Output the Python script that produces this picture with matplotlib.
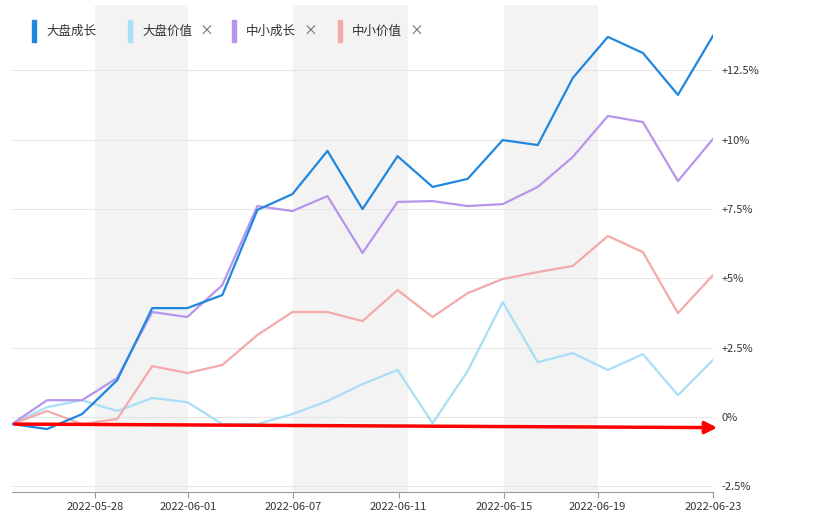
import matplotlib.pyplot as plt

plt.rcParams['font.family'] = ['Noto Sans CJK SC', 'DejaVu Sans']

series_names = ["大盘成长", "大盘价值", "中小成长", "中小价值"]
colors = ["#1f87e0", "#a8def7", "#b795ec", "#f4a9aa"]
large_growth = [-0.25, -0.43, 0.11, 1.33, 3.93, 3.93, 4.40, 7.47, 8.04, 9.60, 7.50,
                9.41, 8.30, 8.59, 9.99, 9.81, 12.23, 13.71, 13.13, 11.62, 13.75]
large_value = [-0.25, 0.36, 0.61, 0.22, 0.69, 0.54, -0.25, -0.25, 0.11, 0.58, 1.19,
               1.70, -0.22, 1.66, 4.15, 1.98, 2.31, 1.70, 2.27, 0.79, 2.06]
small_growth = [-0.25, 0.61, 0.61, 1.41, 3.79, 3.61, 4.76, 7.61, 7.43, 7.97, 5.92,
                7.76, 7.79, 7.61, 7.68, 8.30, 9.38, 10.86, 10.64, 8.51, 10.03]
small_value = [-0.25, 0.22, -0.25, -0.07, 1.84, 1.59, 1.88, 2.96, 3.79, 3.79, 3.46,
               4.58, 3.61, 4.47, 4.98, 5.23, 5.45, 6.53, 5.95, 3.75, 5.12]
tick_pos = [2.37, 5.03, 8.03, 11.03, 14.03, 16.71, 20]
tick_labels = ["2022-05-28", "2022-06-01", "2022-06-07", "2022-06-11",
               "2022-06-15", "2022-06-19", "2022-06-23"]
bands = [(2.37, 5.03), (8.03, 11.31), (14.03, 16.71)]
y_ticks = [-2.5, 0, 2.5, 5, 7.5, 10, 12.5]
y_labels = ["-2.5%", "0%", "+2.5%", "+5%", "+7.5%", "+10%", "+12.5%"]

fig = plt.figure(figsize=(8.2, 5.24), dpi=100)
ax = fig.add_axes([12 / 820, 32 / 524, 701 / 820, 487 / 524])
x = list(range(len(large_growth)))

for a, b in bands:
    ax.axvspan(a, b, color="#f3f3f3", zorder=0, lw=0)
for yt in y_ticks:
    ax.axhline(yt, color="#e6e6e6", lw=0.8, zorder=0.5)

# draw back to front like the original
for vals, c in [(large_value, colors[1]), (small_value, colors[3]),
                (small_growth, colors[2]), (large_growth, colors[0])]:
    ax.plot(x, vals, color=c, lw=1.6, zorder=2)

ax.annotate("", xy=(20.2, -0.38), xytext=(0, -0.25),
            arrowprops=dict(arrowstyle="-|>", color="red", lw=2.5, mutation_scale=18),
            zorder=5, annotation_clip=False)

ax.set_xlim(0, 20)
ax.set_ylim(-2.7, 14.86)
ax.yaxis.tick_right()
ax.set_yticks(y_ticks)
ax.set_yticklabels(y_labels, fontsize=8, color="#333333")
ax.set_xticks(tick_pos)
ax.set_xticklabels(tick_labels, fontsize=8, color="#333333")
ax.tick_params(length=0, pad=6)
ax.tick_params(axis="x", length=4, color="#999999", pad=3)
for s in ["top", "left", "right"]:
    ax.spines[s].set_visible(False)
ax.spines["bottom"].set_color("#999999")

# legend
legend_x = [32, 128, 232, 338]
for i, (name, c) in enumerate(zip(series_names, colors)):
    lx = legend_x[i] / 820
    fig.patches.append(plt.Rectangle((lx, 1 - 42 / 524), 4 / 820, 22 / 524,
                                     transform=fig.transFigure, color=c, figure=fig))
    fig.text(lx + 14 / 820, 1 - 31 / 524, name, fontsize=9, va="center", color="#333333")
    if i > 0:
        fig.text(lx + 72 / 820, 1 - 31 / 524, "×", fontsize=10, va="center", color="#666666")

fig.savefig("out.png", dpi=100)
